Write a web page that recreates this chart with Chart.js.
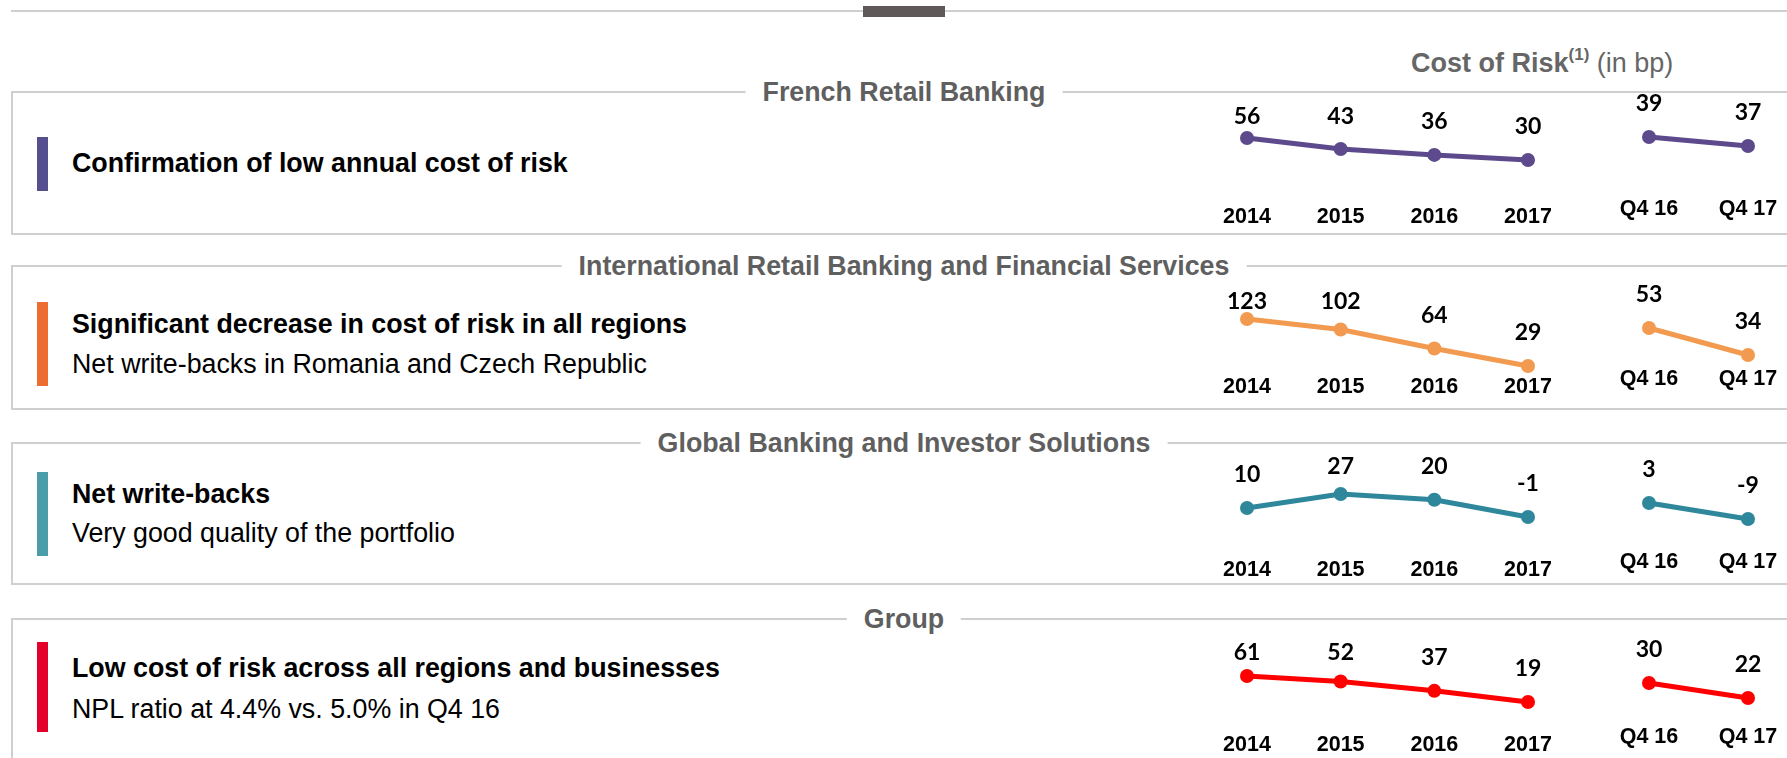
<!DOCTYPE html>
<html>
<head>
<meta charset="utf-8">
<script src="https://cdn.jsdelivr.net/npm/chart.js@4"></script>
<style>
  html, body { margin: 0; padding: 0; background: #fff; }
  body { width: 1787px; height: 758px; overflow: hidden; position: relative; font-family: "Liberation Sans", Arial, sans-serif; }
  .rule { position: absolute; left: 11px; top: 10px; width: 1776px; height: 2px; background: #cfcfcf; }
  .tab { position: absolute; left: 863px; top: 6px; width: 82px; height: 11px; background: #5f5a59; }
  .box { position: absolute; left: 11px; width: 1786px; border: 2px solid #cfcfcf; box-sizing: border-box; }
  .title { position: absolute; left: 904px; transform: translate(-50%, -50%); background: #fff; padding: 0 17px;
           font-weight: bold; font-size: 26.8px; line-height: 30px; color: #5f5f5f; white-space: nowrap; }
  .bar { position: absolute; left: 37px; width: 11px; }
  .txt { position: absolute; left: 72px; font-size: 26.8px; line-height: 30px; color: #000; white-space: nowrap; }
  .txt.b { font-weight: bold; }
  .head { position: absolute; left: 1411px; top: 48px; font-size: 27px; line-height: 30px; color: #666; white-space: nowrap; }
  .head sup { font-size: 17px; line-height: 0; position: relative; top: -2px; }
  canvas { position: absolute; }
</style>
</head>
<body>
<div class="rule"></div>
<div class="tab"></div>
<div class="head"><b>Cost of Risk<sup>(1)</sup></b> (in bp)</div>

<div class="box" style="top:91px;height:144px"></div>
<div class="title" style="top:92px">French Retail Banking</div>
<div class="bar" style="top:137px;height:54px;background:#554f90"></div>
<div class="txt b" style="top:148px">Confirmation of low annual cost of risk</div>

<div class="box" style="top:265px;height:145px"></div>
<div class="title" style="top:266px">International Retail Banking and Financial Services</div>
<div class="bar" style="top:302px;height:84px;background:#ec6d2f"></div>
<div class="txt b" style="top:309px">Significant decrease in cost of risk in all regions</div>
<div class="txt" style="top:349px">Net write-backs in Romania and Czech Republic</div>

<div class="box" style="top:442px;height:143px"></div>
<div class="title" style="top:443px">Global Banking and Investor Solutions</div>
<div class="bar" style="top:472px;height:84px;background:#4b9ea9"></div>
<div class="txt b" style="top:479px">Net write-backs</div>
<div class="txt" style="top:518px">Very good quality of the portfolio</div>

<div class="box" style="top:618px;height:170px"></div>
<div class="title" style="top:619px">Group</div>
<div class="bar" style="top:642px;height:90px;background:#e3002b"></div>
<div class="txt b" style="top:653px">Low cost of risk across all regions and businesses</div>
<div class="txt" style="top:694px">NPL ratio at 4.4% vs. 5.0% in Q4 16</div>

<script>
const years = ['2014', '2015', '2016', '2017'];
const quarters = ['Q4 16', 'Q4 17'];

const frbYear = [56, 43, 36, 30];
const frbQuarter = [39, 37];
const ibfsYear = [123, 102, 64, 29];
const ibfsQuarter = [53, 34];
const gbisYear = [10, 27, 20, -1];
const gbisQuarter = [3, -9];
const groupYear = [61, 52, 37, 19];
const groupQuarter = [30, 22];

// where each small chart sits on the page
const rows = [
  { box: 92,  color: '#5c4a8c', year: frbYear,   quarter: frbQuarter,
    yTop: 138, yBottom: 160, yLabel: 217, yCeil: 117, qTop: 137, qBottom: 146, qLabel: 209 },
  { box: 266, color: '#f29a4f', year: ibfsYear,  quarter: ibfsQuarter,
    yTop: 319, yBottom: 366, yLabel: 387, yCeil: 302, qTop: 328, qBottom: 355, qLabel: 379 },
  { box: 443, color: '#2f879c', year: gbisYear,  quarter: gbisQuarter,
    yTop: 494, yBottom: 517, yLabel: 570, yCeil: 467, qTop: 503, qBottom: 519, qLabel: 562 },
  { box: 619, color: '#ff0000', year: groupYear, quarter: groupQuarter,
    yTop: 676, yBottom: 702, yLabel: 745, yCeil: 653, qTop: 683, qBottom: 698, qLabel: 737 }
];

Chart.defaults.font.family = '"Liberation Sans", Arial, sans-serif';

const valueLabels = {
  id: 'valueLabels',
  afterDatasetsDraw(chart, args, opts) {
    const ctx = chart.ctx;
    const meta = chart.getDatasetMeta(0);
    const vals = chart.data.datasets[0].data;
    ctx.save();
    ctx.font = 'bold 23px Lato, "Liberation Sans", sans-serif';
    ctx.fillStyle = '#000';
    ctx.textAlign = 'center';
    ctx.textBaseline = 'middle';
    meta.data.forEach((pt, i) => {
      let y = pt.y - 33;
      if (opts.ceil != null) y = Math.max(y, opts.ceil);
      ctx.fillText(String(vals[i]), pt.x, y);
    });
    ctx.restore();
  }
};

function miniChart(labels, values, color, left, right, padR, plotTop, plotBottom, labelY, boxTop, ceil) {
  const top = boxTop + 2;
  const tickPad = labelY - plotBottom - 13;
  const axisH = 2 * tickPad + 26;
  const h = plotBottom - top + axisH;
  const padL = 40;
  const w = (right - left) + padL + padR;
  const cv = document.createElement('canvas');
  cv.width = w;
  cv.height = h;
  cv.style.left = (left - padL) + 'px';
  cv.style.top = top + 'px';
  cv.style.width = w + 'px';
  cv.style.height = h + 'px';
  document.body.appendChild(cv);

  new Chart(cv, {
    type: 'line',
    data: {
      labels: labels,
      datasets: [{
        data: values,
        borderColor: color,
        backgroundColor: color,
        borderWidth: 5,
        pointRadius: 7,
        pointBorderWidth: 0,
        pointBackgroundColor: color,
        tension: 0,
        clip: false
      }]
    },
    options: {
      responsive: false,
      animation: false,
      layout: { padding: { left: padL, right: padR, top: plotTop - top, bottom: 0 } },
      plugins: {
        legend: { display: false },
        tooltip: { enabled: false },
        valueLabels: { ceil: ceil == null ? null : ceil - top }
      },
      scales: {
        x: {
          offset: false,
          grid: { display: false, drawTicks: false },
          border: { display: false },
          ticks: {
            padding: tickPad,
            color: '#000',
            font: { size: 21.5, weight: 'bold', lineHeight: 26 / 21.5 },
            maxRotation: 0,
            minRotation: 0,
            autoSkip: false
          },
          afterFit(scale) {
            scale.height = axisH;
            scale.paddingLeft = 0;
            scale.paddingRight = 0;
          }
        },
        y: {
          display: false,
          min: Math.min(...values),
          max: Math.max(...values)
        }
      }
    },
    plugins: [valueLabels]
  });
}

rows.forEach(r => {
  miniChart(years, r.year, r.color, 1247, 1528, 40, r.yTop, r.yBottom, r.yLabel, r.box, r.yCeil);
  miniChart(quarters, r.quarter, r.color, 1649, 1748, 39, r.qTop, r.qBottom, r.qLabel, r.box, null);
});
</script>
</body>
</html>
